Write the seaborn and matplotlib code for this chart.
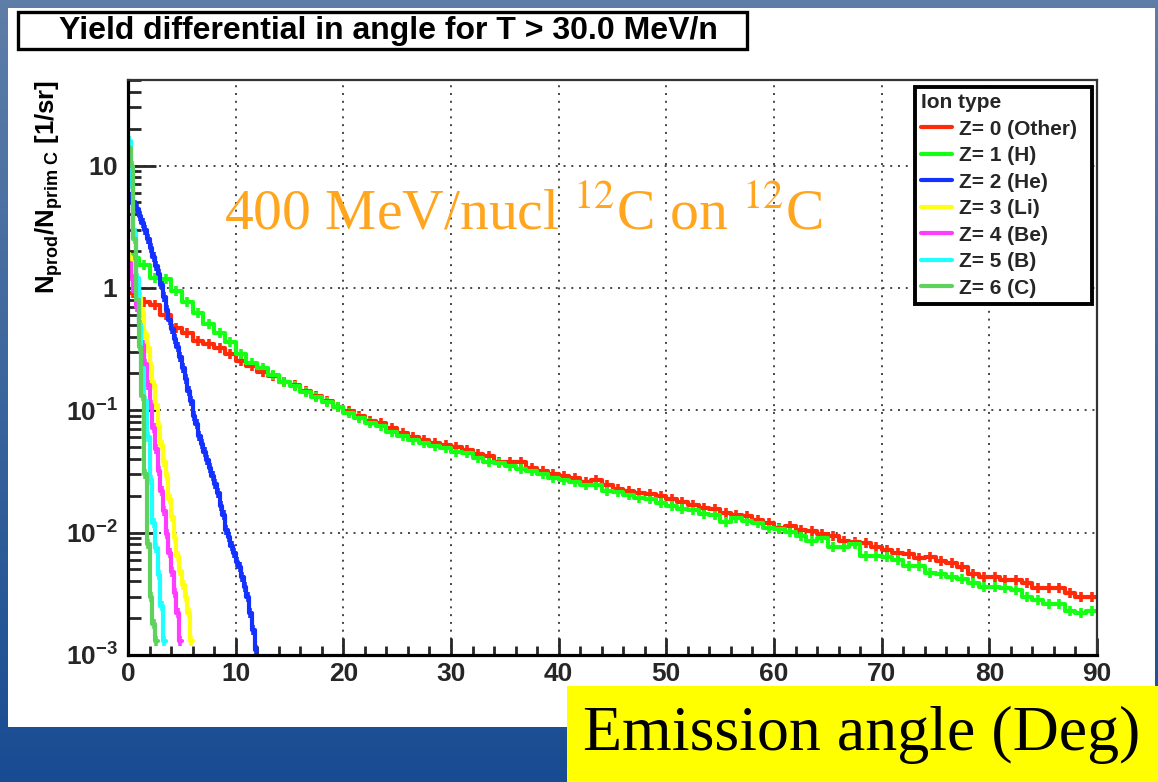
import numpy as np
import pandas as pd
import matplotlib
matplotlib.use("Agg")
import matplotlib.pyplot as plt
from matplotlib.patches import Rectangle
from matplotlib.lines import Line2D
import seaborn as sns

# ---------------------------------------------------------------- text
title_text = "Yield differential in angle for T > 30.0 MeV/n"
beam_text = r"400 MeV/nucl $^{12}$C on $^{12}$C"
xlabel_text = "Emission angle (Deg)"
ylabel_text = r"$\mathbf{N_{prod}/N_{prim\ C}}$ [1/sr]"
legend_title = "Ion type"

ion_labels = ["Z= 0 (Other)", "Z= 1 (H)", "Z= 2 (He)", "Z= 3 (Li)",
              "Z= 4 (Be)", "Z= 5 (B)", "Z= 6 (C)"]
ion_colors = ["#ff2a0a", "#14ff14", "#1432ff", "#ffff14",
              "#ff3cff", "#1effff", "#5dd35d"]

x_ticks = [0, 10, 20, 30, 40, 50, 60, 70, 80, 90]
y_ticks = [1e-3, 1e-2, 1e-1, 1, 10]
y_tick_labels = ["10^{-3}", "10^{-2}", "10^{-1}", "1", "10"]

# ---------------------------------------------------------------- data
# yield per bin, light fragments use 1 deg bins, heavier ones 0.25 deg bins
coarse_bin = 1.0
fine_bin = 0.25

z0_other = [0.90, 0.76, 0.72, 0.60, 0.47, 0.43, 0.37, 0.35, 0.32, 0.29,
            0.255, 0.228, 0.205, 0.19, 0.17, 0.16, 0.145, 0.13, 0.118, 0.107,
            0.098, 0.089, 0.082, 0.078, 0.072, 0.065, 0.060, 0.057, 0.054, 0.052,
            0.050, 0.047, 0.044, 0.042, 0.038, 0.038, 0.038, 0.034, 0.032, 0.030,
            0.029, 0.028, 0.026, 0.027, 0.0245, 0.0228, 0.0217, 0.021, 0.0205, 0.0198,
            0.019, 0.0178, 0.0168, 0.016, 0.0157, 0.0146, 0.014, 0.0137, 0.0127, 0.012,
            0.011, 0.0113, 0.0105, 0.0104, 0.0097, 0.0093, 0.0086, 0.0084, 0.0082, 0.0077,
            0.0072, 0.0068, 0.0067, 0.0062, 0.0063, 0.0059, 0.0056, 0.0052, 0.0046, 0.0043,
            0.0043, 0.0041, 0.0041, 0.0039, 0.0035, 0.0035, 0.0035, 0.0032, 0.0030, 0.0030]

z1_h = [1.77, 1.53, 1.20, 1.18, 0.95, 0.76, 0.62, 0.51, 0.43, 0.36,
        0.29, 0.245, 0.22, 0.196, 0.17, 0.157, 0.14, 0.128, 0.117, 0.106,
        0.095, 0.086, 0.078, 0.074, 0.067, 0.062, 0.057, 0.054, 0.051, 0.049,
        0.046, 0.045, 0.041, 0.038, 0.037, 0.035, 0.033, 0.032, 0.030, 0.028,
        0.027, 0.026, 0.0245, 0.0245, 0.0217, 0.0215, 0.0202, 0.0193, 0.019, 0.0174,
        0.0164, 0.0157, 0.0154, 0.0142, 0.014, 0.0123, 0.0131, 0.0125, 0.012, 0.011,
        0.0108, 0.0102, 0.0093, 0.0086, 0.009, 0.0077, 0.0077, 0.0081, 0.0064, 0.0065,
        0.0063, 0.006, 0.0053, 0.0053, 0.0047, 0.0046, 0.0043, 0.0042, 0.0039, 0.0036,
        0.0036, 0.0035, 0.0034, 0.0030, 0.0028, 0.0026, 0.0026, 0.0023, 0.0022, 0.0023]

z2_he = [5.5, 5.2, 4.8, 4.4, 3.9, 3.4, 3.0, 2.5, 2.1, 1.8,
         1.5, 1.3, 1.05, 0.85, 0.66, 0.55, 0.46, 0.38, 0.33, 0.27,
         0.22, 0.18, 0.145, 0.12, 0.09, 0.077, 0.062, 0.053, 0.046, 0.039,
         0.034, 0.029, 0.025, 0.021, 0.0165, 0.014, 0.0105, 0.0092, 0.0078, 0.0068,
         0.0058, 0.0052, 0.0043, 0.0036, 0.0030, 0.0022, 0.0016, 0.0011]

z3_li = [1.8, 1.6, 1.3, 1.05, 0.85, 0.62, 0.42, 0.32, 0.23, 0.16,
         0.11, 0.075, 0.052, 0.038, 0.029, 0.019, 0.0135, 0.009, 0.0064, 0.0049,
         0.0037, 0.003, 0.0022, 0.0013]

z4_be = [1.6, 1.25, 0.95, 0.7, 0.5, 0.34, 0.24, 0.16, 0.11, 0.072,
         0.048, 0.032, 0.022, 0.015, 0.0098, 0.0068, 0.0048, 0.0032, 0.0022, 0.0013]

z5_b = [16.0, 7.0, 2.8, 1.2, 0.5, 0.22, 0.12, 0.06, 0.027, 0.012,
        0.0075, 0.0045, 0.0025, 0.0013]

z6_c = [14.0, 10.0, 2.5, 0.8, 0.33, 0.13, 0.03, 0.008, 0.003, 0.0018, 0.0013]

series = [(z0_other, coarse_bin), (z1_h, coarse_bin), (z2_he, fine_bin),
          (z3_li, fine_bin), (z4_be, fine_bin), (z5_b, fine_bin), (z6_c, fine_bin)]

step_rows, center_rows = [], []
for label, (vals, width) in zip(ion_labels, series):
    edges = np.arange(len(vals) + 1) * width
    heights = list(vals) + [vals[-1]]
    for e, h in zip(edges, heights):
        step_rows.append({"angle": e, "yield": h, "ion": label})
    for c, h in zip(edges[:-1] + width / 2, vals):
        center_rows.append({"angle": c, "yield": h, "ion": label})
steps = pd.DataFrame(step_rows)
centers = pd.DataFrame(center_rows)

# ---------------------------------------------------------------- style
sns.set_style("white")
plt.rcParams["font.family"] = ["Liberation Sans", "DejaVu Sans"]
plt.rcParams["mathtext.fontset"] = "custom"
plt.rcParams["mathtext.rm"] = "Liberation Sans"
plt.rcParams["mathtext.bf"] = "Liberation Sans:bold"
plt.rcParams["mathtext.it"] = "Liberation Sans:italic"

W, H = 1158, 782
fig = plt.figure(figsize=(W / 100, H / 100), dpi=100)


def fx(px):
    return px / W


def fy(py):
    return 1 - py / H


# slide background gradient
bg = fig.add_axes([0, 0, 1, 1], zorder=-10)
top_c = np.array([0x5e, 0x7e, 0xa8]) / 255
bot_c = np.array([0x18, 0x4c, 0x92]) / 255
t = np.linspace(0, 1, 256)[:, None, None]
grad = top_c * (1 - t) + bot_c * t
grad = np.repeat(grad, 4, axis=1)
bg.imshow(grad, aspect="auto", extent=[0, 1, 0, 1])
bg.set_axis_off()

# white canvas
fig.add_artist(Rectangle((fx(8), fy(727)), fx(1155) - fx(8), fy(8) - fy(727),
                         transform=fig.transFigure, facecolor="white",
                         edgecolor="none", zorder=-5))

# title box
fig.add_artist(Rectangle((fx(18), fy(49)), fx(747) - fx(18), fy(12) - fy(49),
                         transform=fig.transFigure, facecolor="white",
                         edgecolor="black", linewidth=2.4, zorder=-4))
fig.text(fx(388), fy(31), title_text, ha="center", va="center",
         fontsize=23, fontweight="bold", color="black")

# ---------------------------------------------------------------- axes
ax = fig.add_axes([fx(128), fy(655), fx(1097) - fx(128), fy(80) - fy(655)])
ax.set_facecolor("white")

for label, color in zip(ion_labels, ion_colors):
    sns.lineplot(data=steps[steps["ion"] == label], x="angle", y="yield",
                 color=color, estimator=None, sort=False,
                 drawstyle="steps-post", linewidth=3.0, legend=False, ax=ax)
    sns.scatterplot(data=centers[centers["ion"] == label], x="angle", y="yield",
                    color=color, marker="|", s=45, linewidth=2.6,
                    legend=False, ax=ax)

ax.set_yscale("log")
ax.set_xlim(0, 90)
ax.set_ylim(1e-3, 50)

ax.set_xticks(x_ticks)
ax.set_xticklabels([str(v) for v in x_ticks], fontweight="bold", fontsize=19)
ax.set_xticks(np.arange(0, 91, 2), minor=True)
ax.set_yticks(y_ticks)
ax.set_yticklabels([r"$\mathbf{%s}$" % s for s in y_tick_labels], fontsize=19)
minor_y = [k * 10.0 ** n for n in range(-3, 2) for k in range(2, 10)]
ax.set_yticks([v for v in minor_y if v <= 50], minor=True)
ax.yaxis.set_minor_formatter(plt.NullFormatter())

ax.tick_params(axis="y", which="major", direction="in", length=20, width=2,
               pad=7, left=True, right=False)
ax.tick_params(axis="y", which="minor", direction="in", length=9.5, width=2,
               left=True, right=False)
ax.tick_params(axis="x", which="major", direction="in", length=12, width=2,
               pad=5, bottom=True, top=False)
ax.tick_params(axis="x", which="minor", direction="in", length=6.5, width=2,
               bottom=True, top=False)

ax.grid(True, which="major", linestyle=(0, (1, 3)), color="#444444",
        linewidth=1.4)
ax.set_axisbelow(True)

for side in ["left", "bottom"]:
    ax.spines[side].set_linewidth(2.3)
    ax.spines[side].set_color("black")
for side in ["top", "right"]:
    ax.spines[side].set_linewidth(1.6)
    ax.spines[side].set_color("#333333")

ax.set_xlabel("")
ax.set_ylabel("")

# legend
handles = [Line2D([0], [0], color=c, linewidth=3) for c in ion_colors]
leg = ax.legend(handles, ion_labels, title=legend_title, loc="upper left",
                bbox_to_anchor=(0.812, 0.603, 0.183, 0.385), mode="expand",
                borderaxespad=0, alignment="left", frameon=True, fancybox=False,
                edgecolor="black", framealpha=1,
                prop={"weight": "bold", "size": 15},
                title_fontproperties={"weight": "bold", "size": 15},
                handlelength=1.5, handletextpad=0.3, labelspacing=0.36,
                borderpad=0.3)
leg.get_frame().set_linewidth(2.8)

# beam annotation
fig.text(fx(523), fy(215), beam_text, ha="center", va="center",
         family="Liberation Serif", fontsize=41.5, color="#ffa51e",
         math_fontfamily="stix")

# y axis title
fig.text(fx(49), fy(80), ylabel_text, rotation=90, ha="center", va="top",
         fontsize=18.5, fontweight="bold", color="black")

# x axis title on yellow band
fig.add_artist(Rectangle((fx(567), 0), 1 - fx(567), fy(686),
                         transform=fig.transFigure, facecolor="#ffff00",
                         edgecolor="none", zorder=5))
fig.text(fx(862), fy(735), xlabel_text, ha="center", va="center",
         family="Liberation Serif", fontsize=46, color="black", zorder=6)

fig.savefig("out.png", dpi=100)
